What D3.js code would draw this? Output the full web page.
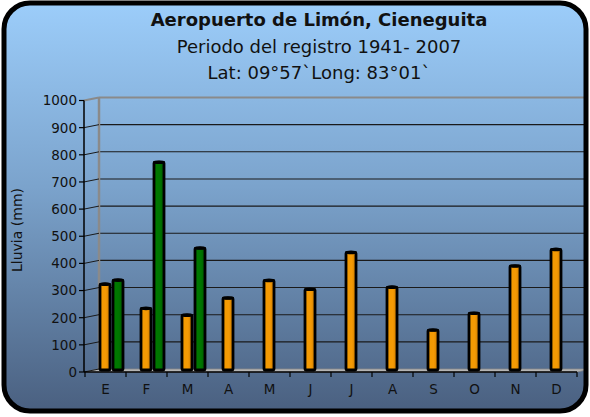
<!DOCTYPE html>
<html>
<head>
<meta charset="utf-8">
<script src="https://cdn.jsdelivr.net/npm/d3@7"></script>
<style>
  body { margin: 0; background: #fff; }
  text { font-family: "DejaVu Sans", Verdana, sans-serif; fill: #111; }
</style>
</head>
<body>
<script>
var width = 590, height = 417;

// data
var months = ["E", "F", "M", "A", "M ", "J", "J ", "A ", "S", "O", "N", "D"];
var monthLabels = ["E", "F", "M", "A", "M", "J", "J", "A", "S", "O", "N", "D"];
var lluviaMedia = [318, 229, 204, 267, 332, 299, 435, 307, 149, 211, 385, 446];
var lluviaOtra = [333, 767, 451, null, null, null, null, null, null, null, null, null];
var yTicks = [0, 100, 200, 300, 400, 500, 600, 700, 800, 900, 1000];

var titleLines = ["Aeropuerto de Limón, Cieneguita", "Periodo del registro 1941- 2007", "Lat: 09°57`Long: 83°01`"];

var svg = d3.select("body").append("svg").attr("width", width).attr("height", height);
var defs = svg.append("defs");

var bg = defs.append("linearGradient").attr("id", "bg").attr("x1", 0).attr("y1", 0).attr("x2", 0).attr("y2", 1);
bg.append("stop").attr("offset", "0%").attr("stop-color", "#9ccdfa");
bg.append("stop").attr("offset", "45%").attr("stop-color", "#7ba3cc");
bg.append("stop").attr("offset", "100%").attr("stop-color", "#4a6080");

var og = defs.append("linearGradient").attr("id", "orange").attr("x1", 0).attr("x2", 1);
og.append("stop").attr("offset", "0%").attr("stop-color", "#f29a00");
og.append("stop").attr("offset", "60%").attr("stop-color", "#f49a05");
og.append("stop").attr("offset", "100%").attr("stop-color", "#c77800");

var gg = defs.append("linearGradient").attr("id", "green").attr("x1", 0).attr("x2", 1);
gg.append("stop").attr("offset", "0%").attr("stop-color", "#007a00");
gg.append("stop").attr("offset", "60%").attr("stop-color", "#007500");
gg.append("stop").attr("offset", "100%").attr("stop-color", "#005800");

defs.append("clipPath").attr("id", "frame").append("rect")
    .attr("x", 4).attr("y", 3).attr("width", 582).attr("height", 408).attr("rx", 26);

svg.append("rect").attr("x", 4).attr("y", 3).attr("width", 582).attr("height", 408).attr("rx", 26)
    .style("fill", "url(#bg)");

var g = svg.append("g").attr("clip-path", "url(#frame)");

// scales - front axis, back wall shifted by depth
var dx = 14, dy = -3;
var x = d3.scaleBand().domain(months).range([85, 577]);
var y = d3.scaleLinear().domain([0, 1000]).range([372, 100.5]);
var sub = d3.scaleBand().domain([0, 1]).range([14, 40]);

// back wall
g.append("g").selectAll("line").data(yTicks.slice(1, -1)).join("line")
    .attr("x1", 85 + dx).attr("x2", 600)
    .attr("y1", function(d) { return y(d) + dy; }).attr("y2", function(d) { return y(d) + dy; })
    .style("stroke", "#1a1a1a").style("stroke-width", 1.1);
g.append("line").attr("x1", 85 + dx).attr("x2", 600).attr("y1", y(1000) + dy).attr("y2", y(1000) + dy)
    .style("stroke", "#8a8a8a").style("stroke-width", 2);
g.append("line").attr("x1", 85 + dx).attr("x2", 85 + dx).attr("y1", y(1000) + dy).attr("y2", y(0) + dy)
    .style("stroke", "#8a8a8a").style("stroke-width", 2.5);
g.append("line").attr("x1", 84).attr("y1", y(1000)).attr("x2", 85 + dx).attr("y2", y(1000) + dy)
    .style("stroke", "#8a8a8a").style("stroke-width", 2);

// floor
g.append("path")
    .attr("d", "M84," + y(0) + "L577," + y(0) + "L" + (577 + dx) + "," + (y(0) + dy) + "L" + (85 + dx) + "," + (y(0) + dy) + "Z")
    .style("fill", "#b4b4b4").style("stroke", "#888").style("stroke-width", 0.8);

// diagonal tick connectors
g.append("g").selectAll("line").data(yTicks.slice(0, -1)).join("line")
    .attr("x1", 84).attr("y1", function(d) { return y(d); })
    .attr("x2", 85 + dx).attr("y2", function(d) { return y(d) + dy; })
    .style("stroke", "#1a1a1a").style("stroke-width", 1);

// bars
function drawBars(vals, fill, idx) {
    var data = vals.map(function(v, i) { return { m: months[i], v: v }; }).filter(function(d) { return d.v != null; });
    var bw = 10;
    var bars = g.append("g");
    bars.selectAll("rect").data(data).join("rect")
        .attr("x", function(d) { return x(d.m) + sub(idx) + 1; })
        .attr("y", function(d) { return y(d.v) - 1.5; })
        .attr("width", bw)
        .attr("height", function(d) { return y(0) - y(d.v) - 0.5; })
        .attr("rx", 1)
        .style("fill", fill).style("stroke", "#000").style("stroke-width", 2.8);
    bars.selectAll("ellipse").data(data).join("ellipse")
        .attr("cx", function(d) { return x(d.m) + sub(idx) + 1 + bw / 2; })
        .attr("cy", function(d) { return y(d.v) - 1.5; })
        .attr("rx", bw / 2 + 0.8).attr("ry", 1.8)
        .style("fill", "#000");
}
drawBars(lluviaMedia, "url(#orange)", 0);
drawBars(lluviaOtra, "url(#green)", 1);

// y axis
var yAxis = svg.append("g");
yAxis.append("line").attr("x1", 84).attr("x2", 84).attr("y1", y(1000)).attr("y2", y(0))
    .style("stroke", "#000").style("stroke-width", 1.5);
yAxis.selectAll(".tk").data(yTicks).join("line").attr("class", "tk")
    .attr("x1", 79).attr("x2", 84).attr("y1", function(d) { return y(d); }).attr("y2", function(d) { return y(d); })
    .style("stroke", "#000").style("stroke-width", 1.2);
yAxis.selectAll("text").data(yTicks).join("text")
    .attr("x", 77).attr("y", function(d) { return y(d); }).attr("dy", "0.36em")
    .attr("text-anchor", "end").style("font-size", "13.5px")
    .text(function(d) { return d; });

// x axis
var xAxis = svg.append("g");
xAxis.append("line").attr("x1", 84).attr("x2", 577).attr("y1", y(0)).attr("y2", y(0))
    .style("stroke", "#000").style("stroke-width", 1.5);
var edges = months.map(function(m) { return x(m); }).concat([577]);
xAxis.selectAll(".tk").data(edges).join("line").attr("class", "tk")
    .attr("x1", function(d) { return d; }).attr("x2", function(d) { return d; })
    .attr("y1", y(0)).attr("y2", y(0) + 5)
    .style("stroke", "#000").style("stroke-width", 1.2);
xAxis.selectAll("text").data(months).join("text")
    .attr("x", function(d) { return x(d) + x.bandwidth() / 2; }).attr("y", 394)
    .attr("text-anchor", "middle").style("font-size", "13.5px")
    .text(function(d, i) { return monthLabels[i]; });

// y label
svg.append("text").attr("transform", "translate(22,230) rotate(-90)")
    .attr("text-anchor", "middle").style("font-size", "14px").text("Lluvia (mm)");

// titles
svg.selectAll(".title").data(titleLines).join("text").attr("class", "title")
    .attr("x", 319).attr("y", function(d, i) { return 26 + i * 26.5; })
    .attr("text-anchor", "middle").style("font-size", "18px")
    .style("font-weight", function(d, i) { return i == 0 ? "bold" : "normal"; })
    .text(function(d) { return d; });

// frame
svg.append("rect").attr("x", 4).attr("y", 3).attr("width", 582).attr("height", 408).attr("rx", 26)
    .style("fill", "none").style("stroke", "#000").style("stroke-width", 5);
</script>
</body>
</html>
